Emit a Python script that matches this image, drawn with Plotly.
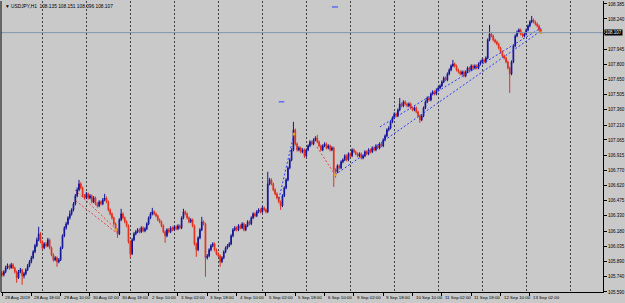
import plotly.graph_objects as go

# ---------------- data (USDJPY H1) ----------------
opens = [
105.770,105.757,105.786,105.824,105.844,105.824,105.854,105.824,105.786,105.728,
105.786,105.805,105.747,105.766,105.805,105.844,105.883,105.921,105.980,106.038,
106.096,106.154,106.077,106.018,106.057,106.038,106.096,106.018,105.951,105.902,
105.921,105.883,105.902,106.018,106.135,106.212,106.251,106.309,106.348,106.387,
106.445,106.523,106.581,106.639,106.600,106.523,106.503,106.542,106.503,106.523,
106.465,106.503,106.445,106.426,106.465,106.445,106.484,106.503,106.465,106.387,
106.348,106.309,106.251,106.193,106.154,106.290,106.348,106.309,106.271,106.232,
106.077,105.960,106.096,106.154,106.174,106.193,106.174,106.212,106.183,106.203,
106.251,106.309,106.348,106.368,106.348,106.329,106.290,106.271,106.232,106.174,
106.135,106.193,106.174,106.212,106.193,106.222,106.203,106.232,106.212,106.309,
106.368,106.348,106.309,106.271,106.290,106.232,106.057,105.999,106.115,106.193,
106.271,106.251,105.921,105.941,105.999,106.038,106.057,105.999,105.960,105.941,
105.883,105.921,105.980,106.018,106.038,106.057,106.135,106.193,106.212,106.193,
106.232,106.212,106.251,106.193,106.232,106.271,106.251,106.309,106.348,106.329,
106.368,106.387,106.368,106.406,106.387,106.368,106.639,106.678,106.639,106.581,
106.542,106.503,106.465,106.426,106.523,106.600,106.678,106.794,106.872,106.969,
107.163,107.027,106.969,106.988,106.950,106.969,106.911,106.969,107.008,107.047,
107.027,107.066,107.085,107.047,107.008,106.969,107.008,107.027,106.988,107.008,
106.969,106.988,106.775,106.756,106.814,106.794,106.853,106.872,106.911,106.872,
106.930,106.911,106.969,106.950,106.930,106.911,106.930,106.891,106.911,106.950,
106.930,106.969,106.950,106.988,106.969,107.008,106.988,107.027,107.008,107.066,
107.105,107.163,107.182,107.241,107.279,107.318,107.299,107.357,107.415,107.396,
107.435,107.415,107.396,107.415,107.376,107.357,107.376,107.338,107.299,107.260,
107.299,107.376,107.435,107.473,107.454,107.512,107.532,107.512,107.551,107.570,
107.590,107.629,107.667,107.648,107.706,107.745,107.784,107.803,107.784,107.745,
107.726,107.706,107.726,107.687,107.726,107.764,107.745,107.784,107.764,107.784,
107.764,107.803,107.823,107.842,107.823,107.861,108.036,108.094,108.075,108.036,
108.017,107.997,107.958,107.920,107.881,107.861,107.823,107.764,107.706,107.823,
107.978,108.075,108.114,108.133,108.094,108.075,108.094,108.133,108.172,108.211,
108.230,108.211,108.191,108.172,108.135]

highs = [
105.792,105.801,105.846,105.866,105.858,105.872,105.869,105.835,105.798,105.803,
105.824,105.817,105.784,105.819,105.862,105.899,105.940,105.996,106.057,106.118,
106.222,106.170,106.091,106.072,106.075,106.115,106.108,106.031,105.965,105.938,
105.934,105.919,106.031,106.150,106.228,106.270,106.325,106.380,106.403,106.462,
106.541,106.604,106.678,106.655,106.614,106.541,106.560,106.555,106.540,106.536,
106.520,106.516,106.461,106.480,106.479,106.501,106.542,106.516,106.478,106.401,
106.362,106.322,106.265,106.207,106.306,106.397,106.362,106.322,106.285,106.246,
106.090,106.112,106.170,106.190,106.210,106.207,106.228,106.226,106.219,106.266,
106.324,106.364,106.406,106.383,106.362,106.341,106.304,106.284,106.246,106.188,
106.208,106.209,106.227,106.226,106.237,106.236,106.247,106.245,106.324,106.397,
106.382,106.361,106.323,106.305,106.303,106.245,106.070,106.130,106.210,106.319,
106.286,106.262,105.958,106.015,106.054,106.072,106.070,106.012,105.974,105.955,
105.937,105.994,106.033,106.054,106.073,106.150,106.209,106.229,106.226,106.248,
106.246,106.266,106.264,106.247,106.286,106.285,106.324,106.363,106.362,106.384,
106.402,106.401,106.421,106.420,106.401,106.756,106.697,106.691,106.652,106.595,
106.556,106.517,106.478,106.538,106.616,106.694,106.810,106.888,106.985,107.241,
107.176,107.040,107.004,107.001,106.985,106.982,106.984,107.023,107.062,107.060,
107.081,107.101,107.115,107.060,107.021,107.023,107.042,107.040,107.023,107.021,
107.004,107.001,106.790,106.829,106.828,106.868,106.887,106.926,106.924,106.945,
106.944,106.984,106.983,106.963,106.943,106.945,106.943,106.926,106.965,106.963,
106.984,106.982,107.003,107.001,107.023,107.021,107.042,107.040,107.081,107.120,
107.178,107.197,107.256,107.295,107.333,107.332,107.372,107.473,107.429,107.450,
107.448,107.428,107.430,107.428,107.389,107.391,107.389,107.351,107.312,107.314,
107.391,107.450,107.488,107.487,107.527,107.547,107.545,107.566,107.585,107.605,
107.644,107.682,107.680,107.721,107.760,107.799,107.842,107.816,107.797,107.758,
107.739,107.741,107.739,107.741,107.779,107.777,107.799,107.797,107.799,107.797,
107.818,107.838,107.857,107.855,107.876,108.051,108.182,108.108,108.088,108.049,
108.030,108.010,107.971,107.933,107.894,107.874,107.836,107.777,107.838,107.993,
108.090,108.129,108.148,108.146,108.107,108.109,108.148,108.187,108.226,108.269,
108.243,108.224,108.204,108.185,108.151]

lows = [
105.738,105.741,105.772,105.811,105.806,105.815,105.812,105.770,105.679,105.716,
105.771,105.660,105.722,105.752,105.793,105.830,105.868,105.909,105.966,106.025,
106.082,106.062,106.001,106.005,106.022,106.026,106.004,105.936,105.884,105.889,
105.834,105.868,105.890,106.006,106.121,106.195,106.238,106.292,106.331,106.372,
106.430,106.509,106.566,106.585,106.508,106.488,106.490,106.487,106.489,106.450,
106.452,106.431,106.410,106.412,106.430,106.432,106.470,106.451,106.372,106.333,
106.292,106.236,106.178,106.115,106.142,106.277,106.294,106.256,106.218,106.060,
105.921,105.948,106.083,106.140,106.160,106.160,106.161,106.170,106.170,106.190,
106.238,106.296,106.334,106.333,106.314,106.276,106.256,106.218,106.160,106.067,
106.121,106.160,106.161,106.180,106.180,106.189,106.190,106.199,106.199,106.296,
106.334,106.295,106.256,106.259,106.218,106.040,105.931,105.986,106.101,106.180,
106.236,105.737,105.905,105.928,105.985,106.024,105.985,105.946,105.926,105.834,
105.870,105.908,105.966,106.004,106.024,106.044,106.121,106.180,106.178,106.180,
106.197,106.199,106.178,106.180,106.219,106.237,106.238,106.296,106.315,106.316,
106.354,106.354,106.355,106.373,106.353,106.355,106.625,106.625,106.567,106.528,
106.489,106.450,106.387,106.413,106.510,106.587,106.665,106.781,106.858,106.955,
107.012,106.953,106.955,106.935,106.936,106.891,106.898,106.956,106.995,107.013,
107.014,107.052,107.033,106.994,106.955,106.956,106.995,106.974,106.975,106.955,
106.956,106.610,106.700,106.742,106.780,106.781,106.839,106.859,106.858,106.859,
106.897,106.898,106.936,106.916,106.897,106.898,106.877,106.878,106.898,106.916,
106.917,106.936,106.937,106.955,106.956,106.974,106.975,106.994,106.995,107.052,
107.092,107.149,107.168,107.228,107.266,107.285,107.286,107.344,107.382,107.383,
107.401,107.382,107.383,107.362,107.343,107.344,107.324,107.285,107.231,107.247,
107.286,107.363,107.422,107.440,107.441,107.499,107.498,107.499,107.538,107.557,
107.577,107.616,107.634,107.635,107.693,107.732,107.771,107.770,107.731,107.712,
107.692,107.693,107.673,107.674,107.713,107.731,107.732,107.750,107.751,107.750,
107.751,107.790,107.810,107.809,107.810,107.848,108.023,108.061,108.022,108.003,
107.983,107.944,107.906,107.867,107.847,107.809,107.750,107.522,107.693,107.810,
107.965,108.062,108.100,108.080,108.061,108.062,108.081,108.120,108.159,108.198,
108.197,108.177,108.158,108.121,108.096]

closes = [
105.757,105.786,105.824,105.844,105.824,105.854,105.824,105.786,105.728,105.786,
105.805,105.747,105.766,105.805,105.844,105.883,105.921,105.980,106.038,106.096,
106.154,106.077,106.018,106.057,106.038,106.096,106.018,105.951,105.902,105.921,
105.883,105.902,106.018,106.135,106.212,106.251,106.309,106.348,106.387,106.445,
106.523,106.581,106.639,106.600,106.523,106.503,106.542,106.503,106.523,106.465,
106.503,106.445,106.426,106.465,106.445,106.484,106.503,106.465,106.387,106.348,
106.309,106.251,106.193,106.154,106.290,106.348,106.309,106.271,106.232,106.077,
105.960,106.096,106.154,106.174,106.193,106.174,106.212,106.183,106.203,106.251,
106.309,106.348,106.368,106.348,106.329,106.290,106.271,106.232,106.174,106.135,
106.193,106.174,106.212,106.193,106.222,106.203,106.232,106.212,106.309,106.368,
106.348,106.309,106.271,106.290,106.232,106.057,105.999,106.115,106.193,106.271,
106.251,105.921,105.941,105.999,106.038,106.057,105.999,105.960,105.941,105.883,
105.921,105.980,106.018,106.038,106.057,106.135,106.193,106.212,106.193,106.232,
106.212,106.251,106.193,106.232,106.271,106.251,106.309,106.348,106.329,106.368,
106.387,106.368,106.406,106.387,106.368,106.639,106.678,106.639,106.581,106.542,
106.503,106.465,106.426,106.523,106.600,106.678,106.794,106.872,106.969,107.163,
107.027,106.969,106.988,106.950,106.969,106.911,106.969,107.008,107.047,107.027,
107.066,107.085,107.047,107.008,106.969,107.008,107.027,106.988,107.008,106.969,
106.988,106.775,106.756,106.814,106.794,106.853,106.872,106.911,106.872,106.930,
106.911,106.969,106.950,106.930,106.911,106.930,106.891,106.911,106.950,106.930,
106.969,106.950,106.988,106.969,107.008,106.988,107.027,107.008,107.066,107.105,
107.163,107.182,107.241,107.279,107.318,107.299,107.357,107.415,107.396,107.435,
107.415,107.396,107.415,107.376,107.357,107.376,107.338,107.299,107.260,107.299,
107.376,107.435,107.473,107.454,107.512,107.532,107.512,107.551,107.570,107.590,
107.629,107.667,107.648,107.706,107.745,107.784,107.803,107.784,107.745,107.726,
107.706,107.726,107.687,107.726,107.764,107.745,107.784,107.764,107.784,107.764,
107.803,107.823,107.842,107.823,107.861,108.036,108.094,108.075,108.036,108.017,
107.997,107.958,107.920,107.881,107.861,107.823,107.764,107.706,107.823,107.978,
108.075,108.114,108.133,108.094,108.075,108.094,108.133,108.172,108.211,108.230,
108.211,108.191,108.172,108.135,108.107]

bar_index = list(range(len(closes)))

time_labels = ["28 Aug 2019", "28 Aug 18:00", "29 Aug 10:00", "30 Aug 02:00",
               "30 Aug 18:00", "2 Sep 10:00", "3 Sep 02:00", "3 Sep 18:00",
               "4 Sep 10:00", "5 Sep 02:00", "5 Sep 18:00", "6 Sep 10:00",
               "9 Sep 02:00", "9 Sep 18:00", "10 Sep 10:00", "11 Sep 02:00",
               "11 Sep 18:00", "12 Sep 10:00", "13 Sep 02:00"]
label_bars = [0, 16, 32, 48, 64, 80, 96, 112, 128, 144, 160, 176, 192,
              208, 224, 240, 256, 272, 288]
day_start_bars = [22, 46, 70, 94, 118, 142, 166, 190, 214, 238, 262, 286, 310]

price_ticks = [108.385, 108.240, 108.095, 107.945, 107.800, 107.650, 107.505,
               107.360, 107.210, 107.065, 106.915, 106.770, 106.620, 106.475,
               106.330, 106.180, 106.035, 105.890, 105.740, 105.590]
# 108.095 sits under the current-price box, so its text is hidden
price_tick_text = ["108.385", "108.240", "", "107.945", "107.800",
                   "107.650", "107.505", "107.360", "107.210", "107.065",
                   "106.915", "106.770", "106.620", "106.475", "106.330",
                   "106.180", "106.035", "105.890", "105.740", "105.590"]

last_price = 108.107
header_text = "USDJPY,H1  108.135 108.151 108.096 108.107"

# drawn objects (bar position, price)
red_line1_x = [39.8, 62.0]
red_line1_y = [106.581, 106.203]
red_line2_x = [40.3, 62.5]
red_line2_y = [106.474, 106.164]
red_line3_x = [171.8, 181.7]
red_line3_y = [106.998, 106.727]
blue_line1_x = [151.1, 159.3]
blue_line1_y = [106.494, 107.124]
blue_line2_x = [181.7, 294.0]
blue_line2_y = [106.727, 108.123]
blue_line3_x = [206.2, 294.0]
blue_line3_y = [107.192, 108.152]
blue_mark1_x = [180.0, 183.3]
blue_mark1_y = [108.356, 108.356]
blue_mark2_x = [151.0, 154.0]
blue_mark2_y = [107.435, 107.435]
dot_x = [62.2, 159.3, 181.7, 294.0]
dot_y = [106.193, 107.124, 106.727, 108.107]

# ---------------- styles ----------------
BG = "#c9c9c9"
BULL = "#14149a"
BEAR = "#e2301c"
FONT = "Liberation Sans"
FS_X = 4.4
FS_Y = 4.5
FS_H = 4.8

fig = go.Figure()

fig.add_trace(go.Candlestick(
    x=bar_index, open=opens, high=highs, low=lows, close=closes,
    increasing=dict(line=dict(color=BULL, width=1), fillcolor=BULL),
    decreasing=dict(line=dict(color=BEAR, width=1), fillcolor=BEAR),
    whiskerwidth=0, showlegend=False, hoverinfo="skip"))

def dotted(xs, ys, color):
    fig.add_trace(go.Scatter(x=xs, y=ys, mode="lines", showlegend=False,
                             hoverinfo="skip",
                             line=dict(color=color, width=1, dash="2px,2px")))

dotted(red_line1_x, red_line1_y, "#e8404a")
dotted(red_line2_x, red_line2_y, "#e8404a")
dotted(red_line3_x, red_line3_y, "#e8404a")
dotted(blue_line1_x, blue_line1_y, "#2a3aff")
dotted(blue_line2_x, blue_line2_y, "#2a3aff")
dotted(blue_line3_x, blue_line3_y, "#2a3aff")

for mx, my in [(blue_mark1_x, blue_mark1_y), (blue_mark2_x, blue_mark2_y)]:
    fig.add_trace(go.Scatter(x=mx, y=my, mode="lines", showlegend=False,
                             hoverinfo="skip", line=dict(color="#2a3aff", width=1)))

fig.add_trace(go.Scatter(x=dot_x, y=dot_y, mode="markers", showlegend=False,
                         hoverinfo="skip",
                         marker=dict(color="#f0a020", size=3, line=dict(width=0))))

# current price line
fig.add_hline(y=last_price, line=dict(color="#8296ad", width=1))

x_min, x_max = -0.55, 327.9

fig.update_layout(
    width=625, height=303,
    margin=dict(l=1, r=22, t=1, b=11),
    paper_bgcolor=BG, plot_bgcolor=BG,
    boxgap=0.45,
    showlegend=False,
    font=dict(family=FONT, size=FS_Y, color="#000000"),
    xaxis=dict(
        range=[x_min, x_max], rangeslider=dict(visible=False),
        tickmode="array", tickvals=label_bars, ticktext=[""] * len(label_bars),
        ticks="outside", ticklen=3, tickcolor="#000000", tickwidth=1,
        showgrid=False, zeroline=False,
        showline=True, linecolor="#000000", linewidth=1,
        minor=dict(tickmode="array", tickvals=day_start_bars, ticks="",
                   showgrid=True, gridcolor="#404040", gridwidth=1,
                   griddash="2px,2px"),
    ),
    yaxis=dict(
        range=[105.5895, 108.414], side="right",
        tickmode="array", tickvals=price_ticks, ticktext=price_tick_text,
        ticks="outside", ticklen=3, tickcolor="#000000",
        tickfont=dict(family=FONT, size=FS_Y, color="#000000"),
        showgrid=False, zeroline=False,
        showline=True, linecolor="#000000", linewidth=1,
    ),
)

# time labels: MT4 style, text starts right after the tick
for b, t in zip(label_bars, time_labels):
    fig.add_annotation(x=b, y=0, xref="x", yref="paper", text=t,
                       showarrow=False, xanchor="left", yanchor="top",
                       xshift=1, yshift=-1,
                       font=dict(family=FONT, size=FS_X, color="#000000"))

# header
fig.add_annotation(x=0, y=1, xref="paper", yref="paper",
                   text="\u25bc " + header_text, showarrow=False,
                   xanchor="left", yanchor="top", xshift=2, yshift=-1,
                   font=dict(family=FONT, size=FS_H, color="#000000"))

# current price label
fig.add_annotation(x=1, y=last_price, xref="paper", yref="y",
                   text=f"{last_price:.3f}", showarrow=False,
                   xanchor="left", yanchor="middle", xshift=1,
                   bgcolor="#000000", borderpad=0,
                   font=dict(family=FONT, size=FS_Y, color="#ffffff"))

# left border
fig.add_shape(type="line", xref="paper", yref="paper", x0=0, x1=0, y0=0, y1=1,
              line=dict(color="#000000", width=1))

fig.write_html("out.html")
